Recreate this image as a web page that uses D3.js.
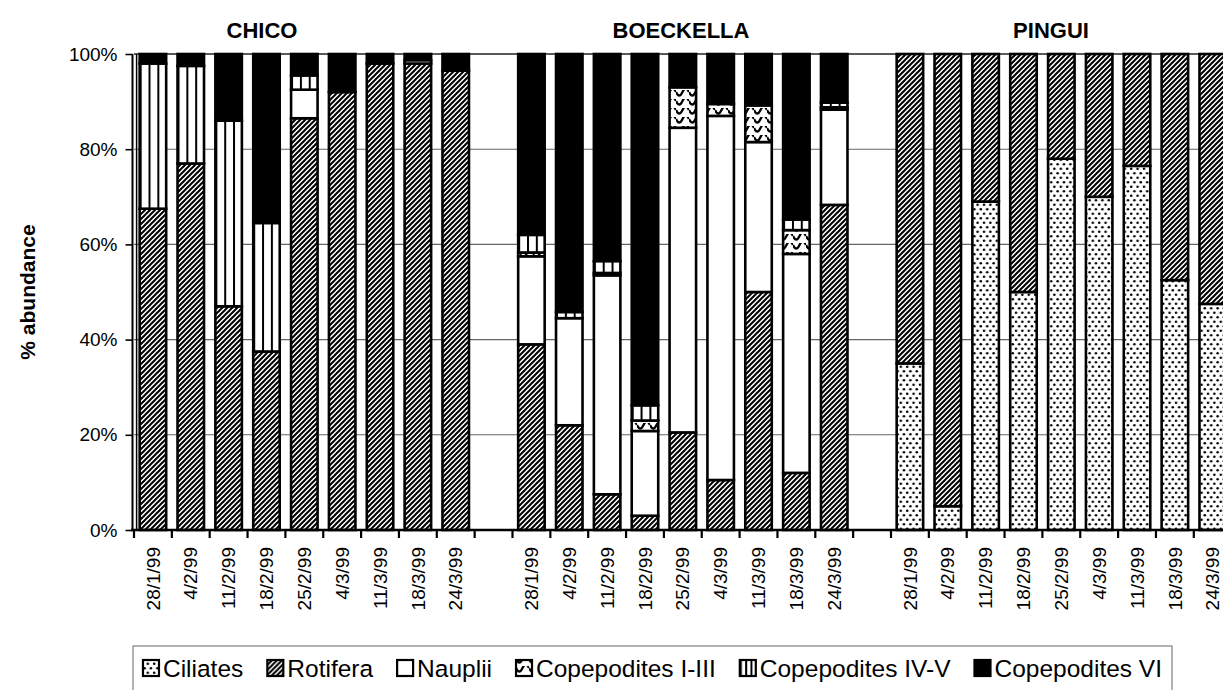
<!DOCTYPE html>
<html>
<head>
<meta charset="utf-8">
<script src="https://cdn.jsdelivr.net/npm/d3@7"></script>
<style>
  body { margin: 0; background: #fff; }
  svg { display: block; font-family: "Liberation Sans", Arial, sans-serif; }
</style>
</head>
<body>
<svg id="chart" width="1223" height="690"></svg>
<script>
// --- data (percent abundance, 9 dates per site: CHICO, BOECKELLA, PINGUI) ---
const sites = ["CHICO", "BOECKELLA", "PINGUI"];
const dates = ["28/1/99", "4/2/99", "11/2/99", "18/2/99", "25/2/99", "4/3/99", "11/3/99", "18/3/99", "24/3/99"];
const seriesNames = ["Ciliates", "Rotifera", "Nauplii", "Copepodites I-III", "Copepodites IV-V", "Copepodites VI"];

const ciliates = [0, 0, 0, 0, 0, 0, 0, 0, 0,
                  0, 0, 0, 0, 0, 0, 0, 0, 0,
                  35, 5, 69, 50, 78, 70, 76.5, 52.5, 47.5];
const rotifera = [67.5, 77, 47, 37.5, 86.5, 92, 98, 98, 96.5,
                  39, 22, 7.5, 3, 20.5, 10.5, 50, 12, 68.3,
                  65, 95, 31, 50, 22, 30, 23.5, 47.5, 52.5];
const nauplii = [0, 0, 0, 0, 6, 0, 0, 0.7, 0,
                 18.5, 22.5, 46, 17.8, 64, 76.5, 31.5, 46, 20,
                 0, 0, 0, 0, 0, 0, 0, 0, 0];
const copI_III = [0, 0, 0, 0, 0, 0, 0, 0, 0,
                  0.8, 0, 0.5, 2.2, 8.5, 2.5, 7.7, 5, 0.5,
                  0, 0, 0, 0, 0, 0, 0, 0, 0];
const copIV_V = [30.5, 20.5, 39, 27, 3, 0, 0, 0, 0,
                 3.7, 1.3, 2.5, 3.2, 0, 0, 0, 2.2, 1,
                 0, 0, 0, 0, 0, 0, 0, 0, 0];
const copVI = [2, 2.5, 14, 35.5, 4.5, 8, 2, 1.3, 3.5,
               38, 54.2, 43.5, 73.8, 7, 10.5, 10.8, 34.8, 10.2,
               0, 0, 0, 0, 0, 0, 0, 0, 0];
const yTicks = [0, 20, 40, 60, 80, 100];

const seriesValues = [ciliates, rotifera, nauplii, copI_III, copIV_V, copVI];

const svg = d3.select("#chart");
const W = 1223;
const plotLeft = 134, plotTop = 54, plotBottom = 530;
const step = 37.85;

// --- patterns (black & white fills like the print) ---
const defs = svg.append("defs");

const dots = defs.append("pattern").attr("id", "dots").attr("patternUnits", "userSpaceOnUse")
  .attr("width", 6.4).attr("height", 9);
dots.append("rect").attr("width", 6.4).attr("height", 9).attr("fill", "#fff");
dots.append("circle").attr("cx", 1.6).attr("cy", 2.2).attr("r", 1.25).attr("fill", "#000");
dots.append("circle").attr("cx", 4.8).attr("cy", 6.7).attr("r", 1.25).attr("fill", "#000");

const hatch = defs.append("pattern").attr("id", "hatch").attr("patternUnits", "userSpaceOnUse")
  .attr("width", 5).attr("height", 5);
hatch.append("rect").attr("width", 5).attr("height", 5).attr("fill", "#fff");
hatch.append("path").attr("d", "M0,5 L5,0 M-1.5,1.5 L1.5,-1.5 M3.5,6.5 L6.5,3.5")
  .attr("stroke", "#000").attr("stroke-width", 2);

const wave = defs.append("pattern").attr("id", "wave").attr("patternUnits", "userSpaceOnUse")
  .attr("width", 13).attr("height", 9);
wave.append("rect").attr("width", 13).attr("height", 9).attr("fill", "#fff");
wave.append("path").attr("d", "M0,2 Q3.25,9 6.5,2 T13,2").attr("fill", "none")
  .attr("stroke", "#000").attr("stroke-width", 2.3);

const vlines = defs.append("pattern").attr("id", "vlines").attr("patternUnits", "objectBoundingBox")
  .attr("width", 1 / 3).attr("height", 1);
vlines.append("rect").attr("width", 40).attr("height", 1000).attr("fill", "#fff");
vlines.append("rect").attr("width", 2).attr("height", 1000).attr("fill", "#000");

const fills = {
  "Ciliates": "url(#dots)",
  "Rotifera": "url(#hatch)",
  "Nauplii": "#fff",
  "Copepodites I-III": "url(#wave)",
  "Copepodites IV-V": "url(#vlines)",
  "Copepodites VI": "#000"
};

// --- scales: 3 blocks of 9 dates, one empty slot between blocks ---
const slots = [];
sites.forEach((s, i) => {
  if (i > 0) slots.push("gap" + i);
  dates.forEach(d => slots.push(s + "|" + d));
});

const x = d3.scaleBand()
  .domain(slots)
  .range([plotLeft, plotLeft + step * slots.length])
  .paddingInner(0.3)
  .paddingOuter(0.15);

const y = d3.scaleLinear().domain([0, 100]).range([plotBottom, plotTop]);

const rows = [];
sites.forEach((s, i) => dates.forEach((d, j) => {
  const row = { key: s + "|" + d };
  seriesNames.forEach((n, k) => row[n] = seriesValues[k][i * 9 + j]);
  rows.push(row);
}));
const stacked = d3.stack().keys(seriesNames)(rows);

// gridlines
svg.append("g").selectAll("line")
  .data(yTicks.filter(t => t > 0))
  .join("line")
  .attr("x1", plotLeft).attr("x2", W)
  .attr("y1", d => y(d)).attr("y2", d => y(d))
  .attr("stroke", d => d === 100 ? "#222" : "#666")
  .attr("stroke-width", d => d === 100 ? 1.6 : 1.1);

// bars
svg.append("g").selectAll("g")
  .data(stacked)
  .join("g")
  .attr("fill", d => fills[d.key])
  .selectAll("rect")
  .data(d => d.filter(p => p[1] - p[0] > 0))
  .join("rect")
  .attr("x", d => x(d.data.key))
  .attr("width", x.bandwidth())
  .attr("y", d => y(d[1]))
  .attr("height", d => y(d[0]) - y(d[1]))
  .attr("stroke", "#000")
  .attr("stroke-width", 2.6);

// y axis (drawn double, like the scan)
svg.append("line").attr("x1", plotLeft - 1.5).attr("x2", plotLeft - 1.5).attr("y1", plotTop).attr("y2", plotBottom)
  .attr("stroke", "#000").attr("stroke-width", 2);
svg.append("line").attr("x1", plotLeft + 2.6).attr("x2", plotLeft + 2.6).attr("y1", plotTop).attr("y2", plotBottom)
  .attr("stroke", "#000").attr("stroke-width", 1.5);

const yAxis = svg.append("g")
  .attr("transform", `translate(${plotLeft - 1.5},0)`)
  .call(d3.axisLeft(y).tickValues(yTicks).tickSize(7).tickFormat(d => d + "%"));
yAxis.select(".domain").remove();
yAxis.selectAll("line").attr("stroke", "#000").attr("stroke-width", 1.6);
yAxis.selectAll("text")
  .attr("x", -15)
  .style("font-size", "19px")
  .style("font-family", "Liberation Sans, Arial, sans-serif")
  .attr("fill", "#000");

// x axis: ticks at category boundaries, rotated date labels
svg.append("line").attr("x1", plotLeft - 3).attr("x2", W).attr("y1", plotBottom).attr("y2", plotBottom)
  .attr("stroke", "#000").attr("stroke-width", 2.4);

svg.append("g").selectAll("line")
  .data(d3.range(slots.length + 1))
  .join("line")
  .attr("x1", i => plotLeft + i * x.step()).attr("x2", i => plotLeft + i * x.step())
  .attr("y1", plotBottom).attr("y2", plotBottom + 8)
  .attr("stroke", "#000").attr("stroke-width", 2.2);

svg.append("g").selectAll("text")
  .data(slots.filter(s => !s.startsWith("gap")))
  .join("text")
  .attr("transform", d => `translate(${x(d) + x.bandwidth() / 2},547) rotate(-90)`)
  .attr("text-anchor", "end")
  .attr("dy", "0.35em")
  .style("font-size", "19px")
  .text(d => d.split("|")[1]);

// site titles
const titleX = { "CHICO": 262, "BOECKELLA": 681, "PINGUI": 1051 };
svg.append("g").selectAll("text")
  .data(sites)
  .join("text")
  .attr("x", d => titleX[d])
  .attr("y", 38)
  .attr("text-anchor", "middle")
  .style("font-size", "22px")
  .style("font-weight", "bold")
  .text(d => d);

// y title
svg.append("text")
  .attr("transform", `translate(35,${(plotTop + plotBottom) / 2}) rotate(-90)`)
  .attr("text-anchor", "middle")
  .style("font-size", "21px")
  .style("font-weight", "bold")
  .text("% abundance");

// --- legend ---
const legX0 = 133, legX1 = 1172, legY0 = 646;
svg.append("rect")
  .attr("x", legX0).attr("y", legY0)
  .attr("width", legX1 - legX0).attr("height", 60)
  .attr("fill", "none").attr("stroke", "#666").attr("stroke-width", 1);

const legend = svg.append("g");
const iconSize = 16, gapIcon = 4, gapItem = 24, legY = 668;
let cursor = 0;
seriesNames.forEach(n => {
  const g = legend.append("g").attr("transform", `translate(${cursor},0)`);
  g.append("rect")
    .attr("x", 0).attr("y", legY - iconSize / 2)
    .attr("width", iconSize).attr("height", iconSize)
    .attr("fill", fills[n]).attr("stroke", "#000").attr("stroke-width", 2.2);
  const t = g.append("text")
    .attr("x", iconSize + gapIcon).attr("y", legY)
    .attr("dy", "0.36em")
    .style("font-size", "24.5px")
    .text(n);
  cursor += iconSize + gapIcon + t.node().getComputedTextLength() + gapItem;
});
cursor -= gapItem;
legend.attr("transform", `translate(${(legX0 + legX1 - cursor) / 2},0)`);
</script>
</body>
</html>
